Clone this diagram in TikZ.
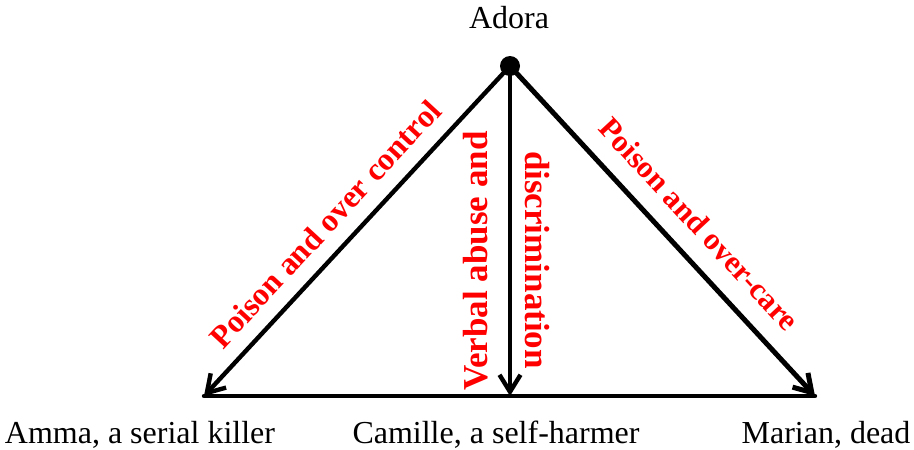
\documentclass[tikz,border=0pt]{standalone}
\usepackage{fontspec}
\setmainfont{Liberation Serif}
\usetikzlibrary{arrows.meta}
\begin{document}
\begin{tikzpicture}[x=1pt,y=-1pt,
  edge/.style={line width=4.4pt,-{Straight Barb[length=17pt,width=21pt]}},
  base/.style={line width=4.4pt,line cap=round},
  person/.style={font=\fontsize{32}{36}\selectfont,inner sep=0pt},
  lab/.style={font=\fontsize{32}{36}\selectfont\bfseries,text=red,inner sep=0pt,align=center},
  vlab/.style={lab,font=\fontsize{35}{38}\selectfont\bfseries}]
\useasboundingbox (0,0) rectangle (914,450);
\coordinate (A) at (510,66);
\coordinate (L) at (204,396);
\coordinate (C) at (510,396);
\coordinate (R) at (815,396);
\draw[base] (L) -- (R);
\draw[edge] (A) -- (L);
\draw[edge] (A) -- (C);
\draw[edge,line width=5pt] (A) -- (R);
\fill (A) circle (10pt);
\node[person] (adora) at (509,18) {Adora};
\node[person] (amma) at (140,435) {Amma, a serial killer};
\node[person] (camille) at (496,435) {Camille, a self-harmer};
\node[person] (marian) at (826,435) {Marian, dead};
\node[lab,rotate=47.2] (l1) at (325,224) {Poison and over control};
\node[vlab,rotate=90] (l2) at (476,261) {Verbal abuse and};
\node[vlab,rotate=-90] (l3) at (537,260) {discrimination};
\node[lab,font=\fontsize{31}{36}\selectfont\bfseries,rotate=-47.2] (l4) at (699,224) {Poison and over-care};
\end{tikzpicture}
\end{document}
